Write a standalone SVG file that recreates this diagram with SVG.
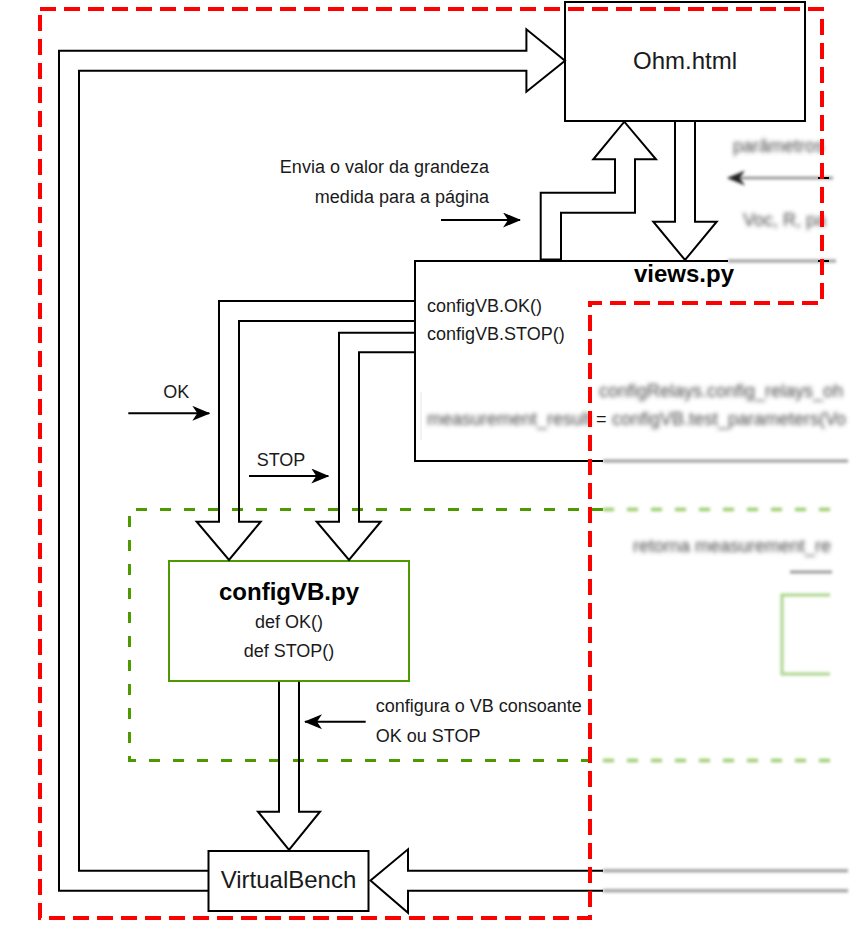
<svg xmlns="http://www.w3.org/2000/svg" width="858" height="943" viewBox="0 0 858 943">
<style>
  .box{fill:none;stroke:#000;stroke-width:2}
  .flex{fill:none;stroke:#000;stroke-width:2;stroke-linejoin:miter}
  .t{font-family:"Liberation Sans",Arial,sans-serif;fill:#1a1a1a}
  .s18{font-size:18px}
  .s24{font-size:24px}
  .b{font-weight:bold;fill:#000}
  .arr{stroke:#000;stroke-width:2;fill:none}
  .bl{stroke:#9a9a9a;stroke-width:3;fill:none}
  .bt{font-family:"Liberation Sans",Arial,sans-serif;font-size:18px;fill:#4a4a4a}
</style>
<defs>
  <marker id="ah" markerUnits="userSpaceOnUse" markerWidth="18" markerHeight="15" refX="17" refY="7.5" orient="auto">
    <path d="M0,0 L18,7.5 L0,15 L5,7.5 Z" fill="#000"/>
  </marker>
  <marker id="ahg" markerUnits="userSpaceOnUse" markerWidth="18" markerHeight="15" refX="17" refY="7.5" orient="auto">
    <path d="M0,0 L18,7.5 L0,15 L5,7.5 Z" fill="#222"/>
  </marker>
  <filter id="blur" filterUnits="userSpaceOnUse" x="0" y="0" width="858" height="943">
    <feGaussianBlur stdDeviation="1.8"/>
  </filter>
  <filter id="blurt" filterUnits="userSpaceOnUse" x="0" y="0" width="858" height="943">
    <feGaussianBlur stdDeviation="2.3"/>
  </filter>
</defs>
<rect width="858" height="943" fill="#fff"/>

<!-- blurred background content -->
<g id="blurred">
  <g filter="url(#blurt)">
    <text class="bt" x="733" y="152">parâmetros</text>
    <text class="bt" x="743" y="226">Voc, R, pa</text>
    <text class="bt" x="599" y="397">configRelays.config_relays_oh</text>
    <text class="bt" x="427" y="425">measurement_result</text>
    <text class="bt" x="612" y="425">configVB.test_parameters(Vo</text>
    <text class="bt" x="633" y="552">retorna measurement_re</text>
  </g>
  <g filter="url(#blur)">
    <line x1="833" y1="178" x2="728" y2="178" stroke="#888" stroke-width="2.5" marker-end="url(#ahg)"/>
    <line class="bl" x1="728" y1="261" x2="836" y2="261"/>
    <line class="bl" x1="603" y1="461" x2="848" y2="461"/>
    <line x1="603" y1="509.5" x2="840" y2="509.5" stroke="#9ccc6e" stroke-width="3.5" stroke-dasharray="11 13"/>
    <line x1="603" y1="760.5" x2="842" y2="760.5" stroke="#9ccc6e" stroke-width="3.5" stroke-dasharray="11 13"/>
    <line class="bl" x1="790" y1="572" x2="832" y2="572"/>
    <path d="M830,595 H782 V674 H830" fill="none" stroke="#a9d48a" stroke-width="3"/>
    <line class="bl" x1="603" y1="870.7" x2="848" y2="870.7"/>
    <line class="bl" x1="603" y1="890.7" x2="848" y2="890.7"/>
  </g>
</g>
<line x1="421" y1="392" x2="421" y2="440" stroke="#e6e6e6" stroke-width="1"/>

<!-- green dashed container -->
<g id="container-configvb">
  <path d="M603,509.5 H129.5 V760.5 H603" fill="none" stroke="#4D9900" stroke-width="3" stroke-dasharray="11 13"/>
</g>

<!-- nodes -->
<g id="node-ohm">
  <rect class="box" x="565" y="2" width="240" height="119" fill="#fff"/>
  <text class="t s24" x="685" y="68.5" text-anchor="middle">Ohm.html</text>
</g>

<g id="node-views">
  <path class="box" d="M728,261 H415 V461 H603"/>
  <line x1="818" y1="261" x2="829" y2="261" stroke="#000" stroke-width="2"/>
  <line x1="818" y1="178" x2="829" y2="178" stroke="#000" stroke-width="2"/>
  <text class="t s24 b" x="684" y="282" text-anchor="middle">views.py</text>
  <text class="t s18" x="427" y="312">configVB.OK()</text>
  <text class="t s18" x="427" y="340">configVB.STOP()</text>
  <text class="t s18" x="596" y="425">=</text>
</g>

<g id="node-configvb">
  <rect x="169" y="561" width="240" height="120" fill="#fff" stroke="#4D9900" stroke-width="2"/>
  <text class="t s24 b" x="289" y="599.5" text-anchor="middle">configVB.py</text>
  <text class="t s18" x="289" y="628" text-anchor="middle">def OK()</text>
  <text class="t s18" x="289" y="657" text-anchor="middle">def STOP()</text>
</g>

<g id="node-virtualbench">
  <rect class="box" x="208.5" y="851" width="160" height="60" fill="#fff"/>
  <text class="t s24" x="288.5" y="888" text-anchor="middle">VirtualBench</text>
</g>

<!-- connectors -->
<g id="connectors">
  <path class="flex" d="M208.5,890.7 H59 V50.7 H526.4 V29.3 L565,60.7 L526.4,91.7 V70.7 H79 V870.7 H208.5"/>
  <path class="flex" d="M603,870.7 H408 V849.3 L370.5,880.5 L408,912.7 V890.7 H603"/>
  <path class="flex" d="M675,121.7 V221.7 H653.3 L685,260 L716.7,221.7 H695 V121.7"/>
  <path class="flex" d="M540.7,259.5 V192.7 H615 V159.3 H593.3 L624.3,121.7 L656,159.3 H635 V212.7 H561 V259.5 Z"/>
  <path class="flex" d="M415,301 H219 V521.7 H196.7 L229,560 L260.7,521.7 H239 V321 H415"/>
  <path class="flex" d="M415,332.7 H339 V521.7 H316.7 L349,560 L380.7,521.7 H359 V352.3 H415"/>
  <path class="flex" d="M279,681.7 V811.7 H258 L289,850 L320,811.7 H299 V681.7"/>
  <line class="arr" x1="441" y1="220" x2="520" y2="220" marker-end="url(#ah)"/>
  <line class="arr" x1="128.3" y1="413.3" x2="209.3" y2="413.3" marker-end="url(#ah)"/>
  <line class="arr" x1="249" y1="476" x2="328.3" y2="476" marker-end="url(#ah)"/>
  <line class="arr" x1="365.7" y1="721.7" x2="305" y2="721.7" marker-end="url(#ah)"/>
</g>

<!-- labels -->
<g id="labels">
  <text class="t s18" x="489" y="172.5" text-anchor="end">Envia o valor da grandeza</text>
  <text class="t s18" x="489" y="203" text-anchor="end">medida para a página</text>
  <text class="t s18" x="163.3" y="398.3">OK</text>
  <text class="t s18" x="256.7" y="465.7">STOP</text>
  <text class="t s18" x="375.7" y="711.7">configura o VB consoante</text>
  <text class="t s18" x="375.7" y="741.7">OK ou STOP</text>
</g>

<!-- red dashed container -->
<g id="container-system">
  <path d="M40,9 H822 V303 H590 V918 H40 Z" fill="none" stroke="#FF0000" stroke-width="4" stroke-dasharray="16 8"/>
</g>
</svg>
